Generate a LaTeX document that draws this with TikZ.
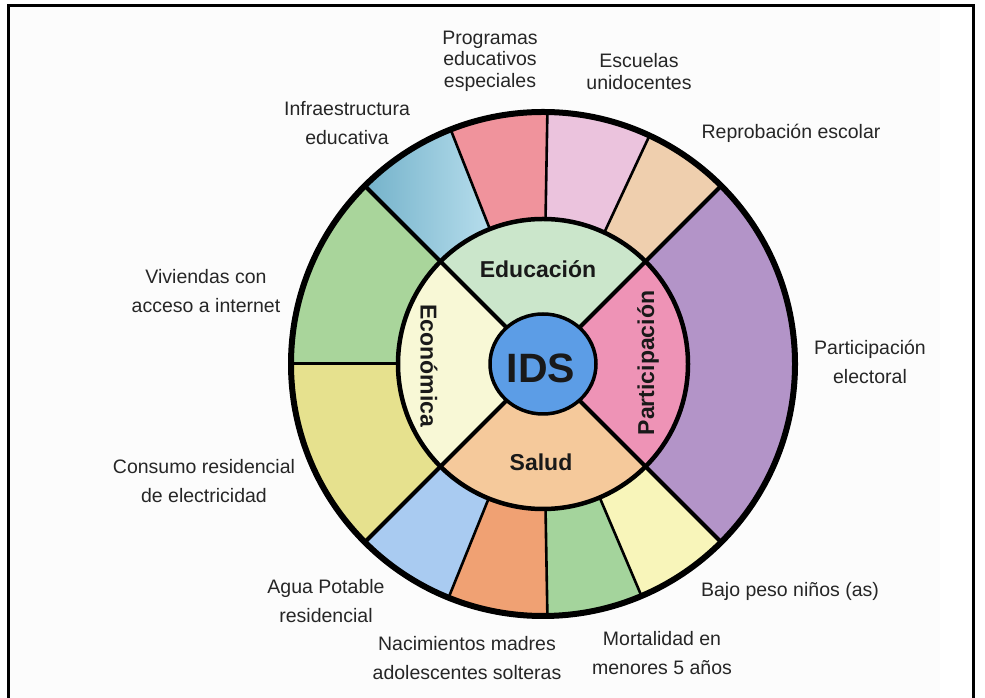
\documentclass[tikz,border=0pt]{standalone}
\usepackage{fontspec}
\setmainfont{Liberation Sans}
\definecolor{cElec}{HTML}{B394C8}
\definecolor{cRepr}{HTML}{EFCFAE}
\definecolor{cEsc}{HTML}{EBC3DD}
\definecolor{cProg}{HTML}{F0939C}
\definecolor{cInfA}{HTML}{74B2CA}
\definecolor{cInfB}{HTML}{B6DDEC}
\definecolor{cViv}{HTML}{A9D59B}
\definecolor{cCons}{HTML}{E6E18E}
\definecolor{cAgua}{HTML}{A9CBF1}
\definecolor{cNac}{HTML}{F0A173}
\definecolor{cMort}{HTML}{A4D49C}
\definecolor{cBajo}{HTML}{F8F5BA}
\definecolor{cEdu}{HTML}{CBE6CB}
\definecolor{cEco}{HTML}{F8F8D6}
\definecolor{cSal}{HTML}{F5C99B}
\definecolor{cPar}{HTML}{EE93B6}
\definecolor{cIDS}{HTML}{5C9DE6}
\newcommand{\annsecpath}[4]{(#1:#3pt) arc[start angle=#1,end angle=#2,radius=#3pt] -- (#2:#4pt) arc[start angle=#2,end angle=#1,radius=#4pt] -- cycle}
\begin{document}
\begin{tikzpicture}[x=1pt,y=1pt,
  lbl/.style={font=\fontsize{19.5}{29}\selectfont, align=center, text=black!85},
  lbltight/.style={font=\fontsize{19.5}{21.5}\selectfont, align=center, text=black!85},
  dim/.style={font=\bfseries\fontsize{23}{26}\selectfont, text=black!90},
  thinsep/.style={line width=2.6pt},
  thicksep/.style={line width=4pt},
]
\useasboundingbox (0,0) rectangle (985,698);
\fill[white] (0,0) rectangle (985,698);
\fill[black!1] (8,0) rectangle (940,692);
\draw[line width=3pt] (8,0) -- (8,692) -- (973,692) -- (973,0);

\begin{scope}[shift={(543,334)}]
  % outer ring sectors
  \fill[cElec] \annsecpath{-45}{45}{145}{252};
  \fill[cRepr] \annsecpath{45}{65}{145}{252};
  \fill[cEsc]  \annsecpath{65}{89}{145}{252};
  \fill[cProg] \annsecpath{89}{111.5}{145}{252};
  \shade[left color=cInfA, right color=cInfB] \annsecpath{111.5}{135}{145}{252};
  \fill[cViv]  \annsecpath{135}{180}{145}{252};
  \fill[cCons] \annsecpath{180}{225}{145}{252};
  \fill[cAgua] \annsecpath{225}{248}{145}{252};
  \fill[cNac]  \annsecpath{248}{271}{145}{252};
  \fill[cMort] \annsecpath{271}{293}{145}{252};
  \fill[cBajo] \annsecpath{293}{315}{145}{252};
  % inner ring sectors
  \fill[cEdu] \annsecpath{45}{135}{50}{145};
  \fill[cEco] \annsecpath{135}{225}{50}{145};
  \fill[cSal] \annsecpath{225}{315}{50}{145};
  \fill[cPar] \annsecpath{-45}{45}{50}{145};
  % thin separators of outer ring
  \foreach \a in {65,89,111.5,248,271,293}
    \draw[thinsep] (\a:145pt) -- (\a:252pt);
  \draw[line width=3pt] (180:145pt) -- (180:252pt);
  % diagonals
  \foreach \a in {45,135,225,315}
    \draw[thicksep] (\a:50pt) -- (\a:252pt);
  % circles
  \draw[line width=4.5pt] (0,0) circle[radius=145pt];
  \draw[line width=6pt] (0,0) circle[radius=252pt];
  \filldraw[fill=cIDS, draw=black, line width=3.5pt] (0,0) ellipse[x radius=53pt, y radius=50pt];
\end{scope}

% centre and dimension labels
\node[font=\bfseries\fontsize{41}{44}\selectfont, text=black!90] (ids) at (541,330) {IDS};
\node[dim] (edu) at (538,429) {Educación};
\node[dim] (sal) at (541,236) {Salud};
\node[dim, rotate=-90] (eco) at (429,332) {Económica};
\node[dim, rotate=90] (par) at (648,335) {Participación};

% outer labels
\node[lbltight] (prog) at (490,637) {Programas\\educativos\\especiales};
\node[lbltight] (esc) at (639,626.5) {Escuelas\\unidocentes};
\node[lbl] (infra) at (347,574.5) {Infraestructura\\educativa};
\node[lbl] (repr) at (791,565) {Reprobación escolar};
\node[lbl] (viv) at (206,406.5) {Viviendas con\\acceso a internet};
\node[lbl] (elec) at (870,336.5) {Participación\\electoral};
\node[lbl] (cons) at (204,216.5) {Consumo residencial\\de electricidad};
\node[lbl] (agua) at (326,96.5) {Agua Potable\\residencial};
\node[lbl] (nac) at (467,39.5) {Nacimientos madres\\adolescentes solteras};
\node[lbl] (mort) at (662,45) {Mortalidad en\\menores 5 años};
\node[lbl] (bajo) at (790,107) {Bajo peso niños (as)};
\end{tikzpicture}
\end{document}
